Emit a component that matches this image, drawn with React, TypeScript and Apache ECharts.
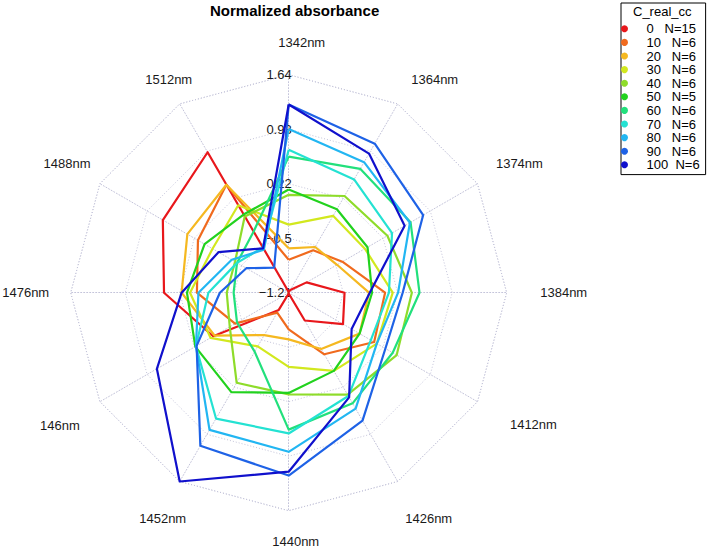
import React, { useEffect, useRef } from 'react';
import * as echarts from 'echarts';

const FONT = '"Liberation Sans", Arial, Helvetica, sans-serif';

// wavelength axes, listed clockwise starting at the top
const wavelengths = ['1342nm', '1364nm', '1374nm', '1384nm', '1412nm', '1426nm', '1440nm', '1452nm', '146nm', '1476nm', '1488nm', '1512nm'];
const axisMin = -1.21;
const axisMax = 1.64;
const tickLabels = ['\u22121.21', '\u22120.5', '0.22', '0.93', '1.64'];

const legendLabels = ['0   N=15', '10   N=6', '20   N=6', '30   N=6', '40   N=6', '50   N=5', '60   N=6', '70   N=6', '80   N=6', '90   N=6', '100  N=6'];

// normalized absorbance per group (same order as wavelengths)
const c0 = [-1.2, -1.17, -0.94, -0.48, -0.39, -0.79, -1.2, -0.95, -0.07, 0.42, 0.69, 0.91];
const c10 = [-0.78, -0.57, -0.4, 0.05, 0.08, -0.28, -0.73, -0.91, -0.4, -0.01, 0.16, 0.42];
const c20 = [-0.63, -0.52, -0.48, -0.16, -0.14, -0.36, -0.6, -0.57, -0.09, 0.19, 0.32, 0.42];
const c30 = [-0.32, -0.05, -0.06, 0.15, 0.12, -0.03, -0.24, -0.4, -0.03, 0.08, -0.06, 0.11];
const c40 = [0.07, 0.25, 0.28, 0.4, 0.42, 0.33, 0.12, 0.15, -0.32, -0.4, -0.4, -0.06];
const c50 = [0.14, 0.05, -0.02, -0.12, -0.14, -0.03, 0.1, 0.29, 0.2, 0.12, 0.06, -0.03];
const c60 = [0.57, 0.66, 0.63, 0.5, 0.36, 0.46, 0.58, -0.32, -0.43, -0.49, -0.43, -0.29];
const c70 = [0.66, 0.5, 0.35, 0.1, 0.03, 0.35, 0.63, 0.69, 0.19, -0.16, -0.43, -0.53];
const c80 = [0.93, 0.76, 0.62, 0.22, 0.12, 0.54, 0.87, 0.86, 0.19, -0.03, -0.35, -0.56];
const c90 = [1.25, 1.04, 0.82, 0.28, 0.25, 0.72, 1.18, 1.1, 0.18, -0.31, -0.57, -0.83];
const c100 = [1.25, 0.89, 0.54, -0.15, -0.26, 0.37, 1.13, 1.64, 0.78, 0.19, -0.15, -0.54];

const groups = [c0, c10, c20, c30, c40, c50, c60, c70, c80, c90, c100];

const groupColors = ['#E8171B', '#F06A1E', '#F5B820', '#D2E81E', '#8EDC2A', '#22D21E', '#22E07C', '#24E2D2', '#22B6F2', '#1E62E6', '#1010CC'];

// visual nudges for the axis names [dx, dy] (style only)
const nameShift = [[13, 6], [18, 9], [9, -1], [19, 0], [23, 4], [12, 4], [7, -7], [2, 4], [-7, 5], [-7, 0], [0, -1], [8, 9]];

// ECharts lays radar axes out counter-clockwise; reorder so the picture runs clockwise
const order = [0, 11, 10, 9, 8, 7, 6, 5, 4, 3, 2, 1];

export default function App() {
  const ref = useRef<HTMLDivElement>(null);
  useEffect(() => {
    if (!ref.current) return;
    const chart = echarts.init(ref.current, undefined, { renderer: 'svg' });
    const rich: Record<string, any> = {};
    nameShift.forEach(([dx, dy], i) => {
      rich['s' + i] = {
        fontSize: 13,
        fontFamily: FONT,
        color: '#1a1a1a',
        padding: [2 * Math.max(dy, 0), 2 * Math.max(-dx, 0), 2 * Math.max(-dy, 0), 2 * Math.max(dx, 0)],
      };
    });
    const indicator = order.map((k, j) => {
      const ind: any = { name: wavelengths[k], min: axisMin, max: axisMax };
      if (j === 0) {
        ind.axisLabel = {
          show: true,
          formatter: (_v: number, idx: number) => tickLabels[idx] ?? '',
          fontSize: 13,
          fontFamily: FONT,
          color: '#1a1a1a',
          align: 'right',
          verticalAlign: 'middle',
          margin: -3,
        };
      }
      return ind;
    });
    const option: any = {
      animation: false,
      backgroundColor: '#ffffff',
      title: [
        {
          text: 'Normalized absorbance',
          left: 210,
          top: 3,
          padding: 0,
          textStyle: { fontSize: 15, fontWeight: 'bold', color: '#000', fontFamily: FONT },
        },
        {
          text: 'C_real_cc',
          left: 633,
          top: 5,
          padding: 0,
          textStyle: { fontSize: 13, fontWeight: 'normal', color: '#000', fontFamily: FONT },
        },
      ],
      legend: {
        orient: 'vertical',
        left: 621,
        top: 3,
        padding: [19, 6, 3, 0],
        borderColor: '#000',
        borderWidth: 1,
        icon: 'circle',
        itemWidth: 14,
        itemHeight: 7,
        itemGap: 0,
        selectedMode: false,
        data: legendLabels,
        formatter: (name: string) => `{n|${name}}`,
        textStyle: {
          fontSize: 13,
          fontFamily: FONT,
          color: '#000',
          lineHeight: 13.6,
          rich: { n: { fontSize: 13, fontFamily: FONT, color: '#000', lineHeight: 13.6, padding: [0, 0, 0, 10] } },
        },
      },
      radar: {
        center: [288.7, 292.7],
        radius: 218,
        startAngle: 90,
        splitNumber: 4,
        shape: 'polygon',
        indicator,
        nameGap: 38,
        axisName: {
          color: '#1a1a1a',
          fontSize: 13,
          fontFamily: FONT,
          align: 'center',
          verticalAlign: 'middle',
          rich,
          formatter: (name: string) => {
            const i = wavelengths.indexOf(name);
            return `{s${i}|${name}}`;
          },
        },
        axisLabel: { show: false },
        axisTick: { show: false },
        axisLine: { lineStyle: { color: '#c4c4da', type: [1, 2], width: 1 } },
        splitLine: { lineStyle: { color: '#c4c4da', type: [1, 2], width: 1 } },
        splitArea: { show: false },
      },
      series: groups.map((vals, k) => ({
        type: 'radar',
        name: legendLabels[k],
        symbol: 'none',
        silent: true,
        itemStyle: { color: groupColors[k] },
        lineStyle: { color: groupColors[k], width: 2.2 },
        data: [{ name: legendLabels[k], value: order.map((i) => vals[i]) }],
      })),
    };
    chart.setOption(option);
    return () => chart.dispose();
  }, []);
  return <div ref={ref} style={{ position: 'fixed', left: 0, top: 0, width: 714, height: 550 }} />;
}
